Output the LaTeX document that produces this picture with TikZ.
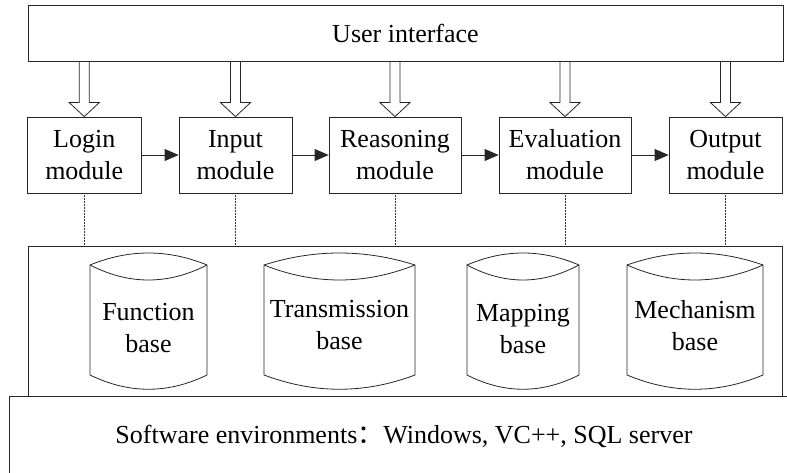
\documentclass[tikz,border=0pt]{standalone}
\usepackage{fontspec}
\setmainfont{Liberation Serif}
\newfontfamily\cjk{Noto Sans CJK SC}
\usetikzlibrary{arrows.meta,calc}

\tikzset{
  line/.style={draw=black!85, line width=0.8pt},
  lbl/.style={font=\fontsize{26}{32}\selectfont, align=center, inner sep=0pt},
  modbox/.style={line, lbl, minimum height=76pt},
  flow/.style={line, -{Triangle[length=14pt,width=12pt]}},
  dotline/.style={draw=black!80, line width=0.5pt, densely dotted},
}

% hollow arrow from the user interface down to a module
\newcommand\hollowdown[1]{%
  \draw[line] let \p1=(#1.north), \p2=(ui.south) in
    (\x1-5pt,\y2) -- (\x1-5pt,\y1+14pt) -- (\x1-15pt,\y1+14pt) -- (\x1,\y1)
    -- (\x1+15pt,\y1+14pt) -- (\x1+5pt,\y1+14pt) -- (\x1+5pt,\y2);}

% database store: name, left x, right x, label, label centre y
\newcommand\dbstore[5]{%
  \pgfmathsetmacro\dbw{#3-#2}%
  \draw[line] (#2,265) .. controls ({#2+\dbw/3},249) and ({#2+2*\dbw/3},249) .. (#3,265)
    -- (#3,375) .. controls ({#2+2*\dbw/3},394) and ({#2+\dbw/3},394) .. (#2,375) -- cycle;
  \draw[line] (#2,265) .. controls ({#2+\dbw/3},285) and ({#2+2*\dbw/3},285) .. (#3,265);
  \node[lbl] (#1) at ({(#2+#3)/2},#5) {#4};}

\begin{document}
\begin{tikzpicture}[x=1pt,y=-1pt]
\useasboundingbox (0,0) rectangle (787,473);

% top layer
\node[line, lbl, minimum width=755pt, minimum height=56pt] (ui) at (405.5,33) {User interface};

% module row
\node[modbox, minimum width=113.5pt] (login)  at (84.25,155) {Login\\module};
\node[modbox, minimum width=113pt]   (input)  at (235.5,155) {Input\\module};
\node[modbox, minimum width=132pt]   (reason) at (395,155)   {Reasoning\\module};
\node[modbox, minimum width=132pt]   (eval)   at (565,155)   {Evaluation\\module};
\node[modbox, minimum width=113pt]   (output) at (725.5,155) {Output\\module};

\foreach \m in {login,input,reason,eval,output}{\hollowdown{\m}}

\draw[flow] (login) -- (input);
\draw[flow] (input) -- (reason);
\draw[flow] (reason) -- (eval);
\draw[flow] (eval) -- (output);

% knowledge bases
\node[line, minimum width=754pt, minimum height=150pt, inner sep=0pt] (kb) at (405,321) {};
\foreach \m in {login,input,reason,eval,output}{
  \draw[dotline] (\m.south) -- (\m.south |- kb.north);}

\dbstore{fb}{90}{207}{Function\\base}{328}
\dbstore{tb}{264}{415}{Transmission\\base}{325}
\dbstore{mb}{467}{579}{Mapping\\base}{329}
\dbstore{mcb}{627}{763}{Mechanism\\base}{326}

% software environment layer
\begin{scope}
\clip (0,0) rectangle (787,473);
\draw[line] (9,480) -- (9,396) -- (800,396);
\end{scope}
\node[lbl] (env) at (404,436) {Software environments{\cjk ：}Windows, VC++, SQL server};
\end{tikzpicture}
\end{document}
